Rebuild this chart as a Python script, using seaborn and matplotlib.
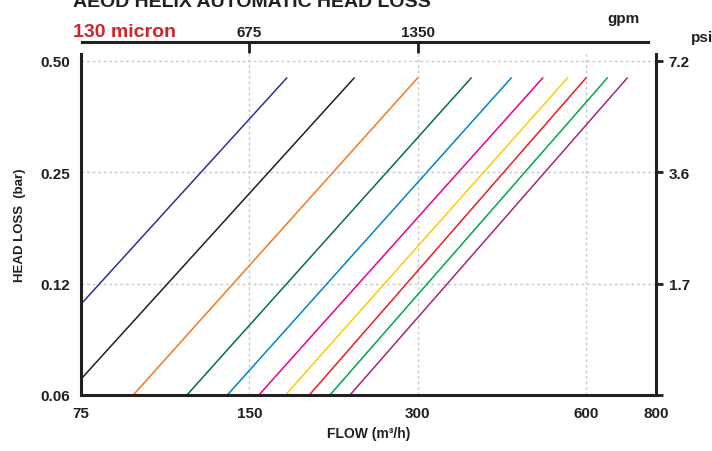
import numpy as np
import pandas as pd
import matplotlib.pyplot as plt
import seaborn as sns
from matplotlib.ticker import NullLocator

# values (flow m3/h, head loss bar)
models = ["m1", "m2", "m3", "m4", "m5", "m6", "m7", "m8", "m9", "m10"]
line_colors = ["#2e3192", "#231f20", "#f47920", "#00704a", "#0083ca",
               "#ec008c", "#ffcc05", "#ed1c24", "#00a651", "#a6247b"]
flow_start = [75, 75, 93, 116, 137, 156, 174, 192, 209, 227]
loss_start = [0.110, 0.069, 0.0625, 0.0625, 0.0625, 0.0625, 0.0625, 0.0625, 0.0625, 0.0625]
flow_end = [175, 231, 300, 374, 441, 502, 556, 600, 655, 711]
loss_end = [0.45, 0.45, 0.45, 0.45, 0.45, 0.45, 0.45, 0.45, 0.45, 0.45]

x_ticks = [75, 150, 300, 600, 800]
y_ticks = [0.0625, 0.125, 0.25, 0.5]
y_labels = ["0.06", "0.12", "0.25", "0.50"]
psi_labels = ["", "1.7", "3.6", "7.2"]
gpm_ticks = [675, 1350]

rows = []
for i in range(len(models)):
    rows.append({"model": models[i], "flow": flow_start[i], "loss": loss_start[i]})
    rows.append({"model": models[i], "flow": flow_end[i], "loss": loss_end[i]})
df = pd.DataFrame(rows)

sns.set_style("white")
plt.rcParams['font.family'] = ['Liberation Sans', 'DejaVu Sans']
plt.rcParams['font.weight'] = 'bold'
dark = "#231f20"

fig = plt.figure(figsize=(7.12, 4.52), dpi=100)
ax = fig.add_axes([81/712, 1 - 396/452, 575/712, 341/452])

sns.lineplot(data=df, x="flow", y="loss", hue="model", palette=line_colors,
             legend=False, linewidth=1.1, ax=ax, sort=True)

ax.set_xscale('log')
ax.set_yscale('log')
ax.set_xlim(75, 800)
ax.set_ylim(0.0625, 0.522)
ax.set_xticks(x_ticks, labels=[str(x) for x in x_ticks])
ax.set_yticks(y_ticks, labels=y_labels)
ax.minorticks_off()

for y in y_ticks[1:]:
    ax.axhline(y, color="#c8c8c8", lw=1, ls=(0, (2, 2)), zorder=0)
for x in [150, 300, 600]:
    ax.axvline(x, color="#c8c8c8", lw=1, ls=(0, (2, 2)), zorder=0)

ax.spines['top'].set_visible(False)
ax.spines['right'].set_visible(False)
for s in ['left', 'bottom']:
    ax.spines[s].set_linewidth(2.2)
    ax.spines[s].set_color(dark)
ax.tick_params(direction='out', length=5, width=2, color=dark, labelcolor=dark,
               labelsize=11, pad=3)
ax.set_xlabel("FLOW (m³/h)", fontsize=10, fontweight='bold', color=dark, labelpad=4)
ax.set_ylabel("HEAD LOSS  (bar)", fontsize=9.5, fontweight='bold', color=dark, labelpad=10)

# psi axis on the right
right = ax.secondary_yaxis('right')
right.set_yticks(y_ticks, labels=psi_labels)
right.yaxis.set_minor_locator(NullLocator())
right.spines['right'].set_linewidth(2.2)
right.spines['right'].set_color(dark)
right.tick_params(direction='out', length=5, width=2, color=dark, labelcolor=dark,
                  labelsize=11, pad=4)

# gpm axis on top
top = ax.secondary_xaxis(1.035, functions=(lambda q: q * 4.5, lambda g: g / 4.5))
top.set_xticks(gpm_ticks, labels=[str(g) for g in gpm_ticks])
top.xaxis.set_minor_locator(NullLocator())
top.spines['top'].set_linewidth(2.2)
top.spines['top'].set_color(dark)
top.spines['top'].set_bounds(339, 3487)
top.tick_params(direction='in', length=8, width=2, color=dark, labelcolor=dark,
                labelsize=11, pad=2)

fig.text(623/712, 1 - 19/452, "gpm", ha='center', va='center', fontsize=11, color=dark)
fig.text(702/712, 1 - 38/452, "psi", ha='center', va='center', fontsize=11, color=dark)

fig.text(73/712, 1 - 7/452, "AEOD HELIX AUTOMATIC HEAD LOSS", ha='left', va='baseline',
         fontsize=14, color=dark)
fig.text(73/712, 1 - 37/452, "130 micron", ha='left', va='baseline',
         fontsize=14, color="#d2232a")

fig.savefig("out.png", dpi=100)
